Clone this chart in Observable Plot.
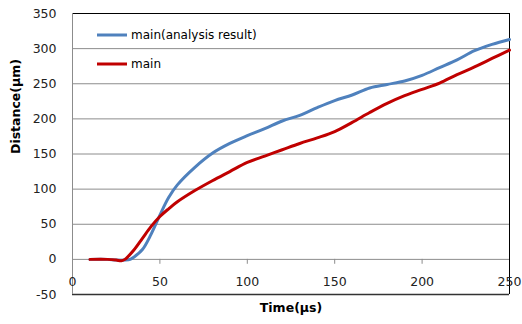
<!DOCTYPE html>
<html><head><meta charset="utf-8">
<script src="https://cdn.jsdelivr.net/npm/d3@7"></script>
<script src="https://cdn.jsdelivr.net/npm/@observablehq/plot@0.6"></script>
<style>body{margin:0;background:#fff}</style>
</head><body><div id="chart"></div>
<script>
const timeRed = [10,20,25,28,30,35,40,45,50,55,60,70,80,90,100,110,120,130,140,150,160,170,180,190,200,210,220,230,240,250];
const red     = [0,0,-1,-2,0,13,30,47,61,72,82,98,112,125,138,147,156,165,173,182,195,209,222,233,242,251,263,274,286,298];
const timeBlue = [10,20,25,30,33,35,40,45,50,55,60,70,80,90,100,110,120,130,140,150,160,170,180,190,200,210,220,230,240,250];
const blue     = [0,0,-1,-1,0,3,14,36,63,88,106,131,151,165,176,186,197,205,216,226,234,244,249,254,262,273,284,297,306,313];
const xTicks = [0,50,100,150,200,250];
const yTicks = [-50,0,50,100,150,200,250,300,350];
const seriesNames = ["main(analysis result)","main"];
const seriesColors = ["#4F81BD","#C00000"];
const xTitle = "Time(μs)";
const yTitle = "Distance(μm)";

const blueData = timeBlue.map((t,i)=>({t, v: blue[i]}));
const redData = timeRed.map((t,i)=>({t, v: red[i]}));
const font = "DejaVu Sans, sans-serif";

function legend(index, scales, values, dims) {
  const g = d3.create("svg:g").attr("font-family", font).attr("font-size", 12).attr("text-anchor", "start");
  seriesNames.forEach((name, i) => {
    const y = dims.marginTop + 22 + i * 29;
    const x0 = dims.marginLeft + 25;
    g.append("line").attr("x1", x0).attr("x2", x0 + 30).attr("y1", y).attr("y2", y)
      .attr("stroke", seriesColors[i]).attr("stroke-width", 3);
    g.append("text").attr("x", x0 + 34).attr("y", y).attr("dy", "0.35em")
      .attr("fill", "#000").text(name);
  });
  return g.node();
}

const chart = Plot.plot({
  width: 522, height: 324,
  marginLeft: 72, marginRight: 13, marginTop: 13, marginBottom: 30,
  style: {fontFamily: font, fontSize: "12px", background: "#fff", overflow: "visible"},
  x: {type: "linear", domain: [0, 250], axis: null},
  y: {type: "linear", domain: [-50, 350], axis: null},
  marks: [
    Plot.ruleY(yTicks, {y: d => d, stroke: "#8c8c8c", strokeWidth: 1}),
    Plot.ruleY([350], {y: d => d, stroke: "#000", strokeWidth: 1}),
    Plot.ruleY([-50], {y: d => d, stroke: "#333", strokeWidth: 1.5}),
    Plot.ruleX([0], {x: d => d, stroke: "#8c8c8c", strokeWidth: 1}),
    Plot.ruleX([250], {x: d => d, stroke: "#000", strokeWidth: 1}),
    Plot.ruleX(xTicks.slice(1, -1), {x: d => d, y1: 0, y2: -7, stroke: "#8c8c8c"}),
    Plot.text(yTicks, {x: null, y: d => d, text: d => String(d), frameAnchor: "left", textAnchor: "end", dx: -16, fill: "#222", fontSize: 12.5}),
    Plot.text(xTicks, {x: d => d, y: null, text: d => String(d), frameAnchor: "bottom", dy: -9, fill: "#222", fontSize: 12.5}),
    Plot.text([xTitle], {x: null, y: null, text: d => d, frameAnchor: "bottom", dy: 17, fontWeight: "bold", fill: "#000", fontSize: 12.5}),
    Plot.text([yTitle], {x: null, y: null, text: d => d, frameAnchor: "left", rotate: -90, dx: -57, fontWeight: "bold", fill: "#000", fontSize: 12.5}),
    Plot.line(blueData, {x: "t", y: "v", stroke: seriesColors[0], strokeWidth: 3, curve: "catmull-rom"}),
    Plot.line(redData, {x: "t", y: "v", stroke: seriesColors[1], strokeWidth: 3, curve: "catmull-rom"}),
    legend
  ]
});
document.getElementById("chart").appendChild(chart);
</script>
</body></html>
